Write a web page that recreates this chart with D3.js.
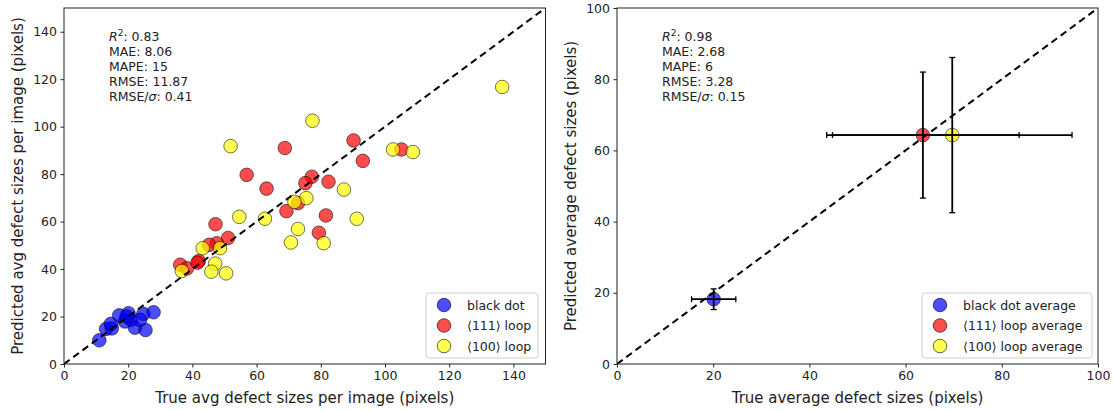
<!DOCTYPE html>
<html><head><meta charset="utf-8">
<script src="https://cdn.jsdelivr.net/npm/d3@7"></script>
<style>body{margin:0;background:#fff;} text{font-family:"DejaVu Sans",sans-serif;fill:#222;}</style>
</head><body><svg id="c" width="1114" height="411"></svg>
<script>
// ---- data ----
const blackDotTrue = [11.0, 13.1, 14.9, 14.6, 17.2, 20.1, 20.9, 22.1, 24.7, 25.4, 27.9, 23.7, 19.0, 19.5];
const blackDotPred = [10.0, 14.8, 15.0, 16.9, 20.5, 21.4, 18.6, 15.3, 21.1, 14.3, 21.8, 18.6, 17.9, 20.0];
const loop111True = [90.2, 68.8, 105.1, 93.1, 56.9, 77.2, 75.2, 82.4, 63.1, 72.9, 69.3, 81.6, 47.2, 79.4, 51.1, 47.6, 45.2, 42.0, 36.2, 38.3, 41.6];
const loop111Pred = [94.2, 91.0, 90.4, 85.6, 79.7, 78.9, 76.2, 76.8, 73.9, 67.8, 64.4, 62.6, 58.9, 55.3, 53.1, 50.9, 50.2, 43.4, 41.8, 40.3, 42.7];
const loop100True = [136.5, 77.4, 51.9, 102.5, 108.7, 87.2, 75.5, 71.8, 54.6, 62.6, 91.2, 72.9, 70.7, 80.9, 43.2, 48.6, 47.1, 45.9, 50.5, 36.7];
const loop100Pred = [116.7, 102.5, 91.8, 90.4, 89.3, 73.5, 69.9, 68.3, 62.0, 61.2, 61.2, 56.9, 51.2, 50.9, 48.8, 48.8, 42.3, 38.9, 38.2, 39.2];
const avgNames = ["black dot average", "\u27E8111\u27E9 loop average", "\u27E8100\u27E9 loop average"];
const avgTrue = [20.1, 63.6, 69.7];
const avgPred = [18.2, 64.3, 64.3];
const avgTrueErr = [4.6, 20.0, 24.9];
const avgPredErr = [2.9, 17.7, 21.8];
const seriesNames = ["black dot", "\u27E8111\u27E9 loop", "\u27E8100\u27E9 loop"];
const seriesColors = ["#0000ff", "#ff0000", "#ffff00"];
const leftTicks = [0, 20, 40, 60, 80, 100, 120, 140];
const rightTicks = [0, 20, 40, 60, 80, 100];
const leftStats = [["R", "0.83"], ["MAE", "8.06"], ["MAPE", "15"], ["RMSE", "11.87"], ["RMSE/\u03C3", "0.41"]];
const rightStats = [["R", "0.98"], ["MAE", "2.68"], ["MAPE", "6"], ["RMSE", "3.28"], ["RMSE/\u03C3", "0.15"]];

const svg = d3.select("#c");
const R = 6.8;

function panel(cfg) {
  const x = d3.scaleLinear().domain([0, cfg.max]).range([cfg.x0, cfg.x1]);
  const y = d3.scaleLinear().domain([0, cfg.max]).range([364, 8]);
  const g = svg.append("g");
  const clipId = "clip" + cfg.id;
  g.append("clipPath").attr("id", clipId).append("rect")
    .attr("x", cfg.x0).attr("y", 8).attr("width", cfg.x1 - cfg.x0).attr("height", 356);

  const xa = g.append("g").attr("transform", "translate(0,364)")
    .call(d3.axisBottom(x).tickValues(cfg.ticks).tickSize(3.5).tickPadding(3.5).tickFormat(d3.format("d")));
  const ya = g.append("g").attr("transform", `translate(${cfg.x0},0)`)
    .call(d3.axisLeft(y).tickValues(cfg.ticks).tickSize(3.5).tickPadding(3.5).tickFormat(d3.format("d")));
  [xa, ya].forEach(a => {
    a.select(".domain").remove();
    a.selectAll("text").style("font-family", "DejaVu Sans").style("font-size", "12.5px").attr("fill", "#222");
    a.selectAll("line").attr("stroke", "#222");
  });

  const body = g.append("g").attr("clip-path", `url(#${clipId})`);
  cfg.draw(body, x, y);

  // diagonal
  body.append("line").attr("x1", x(0)).attr("y1", y(0)).attr("x2", x(cfg.max)).attr("y2", y(cfg.max))
    .attr("stroke", "#000").attr("stroke-width", 2).attr("stroke-dasharray", "7,4.5");

  g.append("rect").attr("x", cfg.x0).attr("y", 8).attr("width", cfg.x1 - cfg.x0).attr("height", 356)
    .attr("fill", "none").attr("stroke", "#222").attr("stroke-width", 1);

  // stats text
  const st = g.append("g");
  cfg.stats.forEach((s, i) => {
    const t = st.append("text").attr("x", cfg.x0 + 45).attr("y", 41 + i * 15).style("font-size", "12.5px");
    if (i === 0) {
      t.append("tspan").text("R").style("font-style", "italic");
      t.append("tspan").text("2").attr("dy", -5).style("font-size", "9px");
      t.append("tspan").text(": " + s[1]).attr("dy", 5);
    } else if (s[0].indexOf("\u03C3") >= 0) {
      t.append("tspan").text("RMSE/");
      t.append("tspan").text("\u03C3").style("font-style", "italic");
      t.append("tspan").text(": " + s[1]);
    } else {
      t.text(s[0] + ": " + s[1]);
    }
  });

  // axis labels
  g.append("text").attr("x", (cfg.x0 + cfg.x1) / 2).attr("y", 403).attr("text-anchor", "middle")
    .style("font-size", "15px").text(cfg.xlabel);
  g.append("text").attr("transform", `translate(${cfg.ylx},186) rotate(-90)`).attr("text-anchor", "middle")
    .style("font-size", "15px").text(cfg.ylabel);

  // legend
  const lg = g.append("g");
  lg.append("rect").attr("x", cfg.lx).attr("y", 293).attr("width", cfg.lw).attr("height", 65).attr("rx", 3)
    .attr("fill", "#fff").attr("fill-opacity", 0.8).attr("stroke", "#d0d0d0");
  cfg.legendNames.forEach((n, i) => {
    const cy = 305 + i * 20.5;
    lg.append("circle").attr("cx", cfg.lx + 18).attr("cy", cy).attr("r", R)
      .attr("fill", seriesColors[i]).attr("fill-opacity", 0.7).attr("stroke", "#000").attr("stroke-opacity", 0.6);
    lg.append("text").attr("x", cfg.lx + 41).attr("y", cy + 4.5).style("font-size", "12.5px").text(n);
  });
}

function dots(body, x, y, xs, ys, color) {
  body.append("g").selectAll("circle").data(xs.map((v, i) => [v, ys[i]])).join("circle")
    .attr("cx", d => x(d[0])).attr("cy", d => y(d[1])).attr("r", R)
    .attr("fill", color).attr("fill-opacity", 0.7).attr("stroke", "#000").attr("stroke-opacity", 0.55).attr("stroke-width", 1);
}

panel({
  id: "L", max: 150, x0: 64, x1: 545.5, ticks: leftTicks, stats: leftStats,
  xlabel: "True avg defect sizes per image (pixels)", ylabel: "Predicted avg defect sizes per image (pixels)", ylx: 23,
  lx: 426, lw: 112, legendNames: seriesNames,
  draw: (b, x, y) => {
    dots(b, x, y, blackDotTrue, blackDotPred, seriesColors[0]);
    dots(b, x, y, loop111True, loop111Pred, seriesColors[1]);
    dots(b, x, y, loop100True, loop100Pred, seriesColors[2]);
  }
});

panel({
  id: "R", max: 100, x0: 617, x1: 1098, ticks: rightTicks, stats: rightStats,
  xlabel: "True average defect sizes (pixels)", ylabel: "Predicted average defect sizes (pixels)", ylx: 576,
  lx: 922, lw: 170, legendNames: avgNames,
  draw: (b, x, y) => {
    avgTrue.forEach((v, i) => {
      dots(b, x, y, [v], [avgPred[i]], seriesColors[i]);
    });
    const eb = b.append("g").attr("stroke", "#000").attr("stroke-width", 1.8);
    avgTrue.forEach((v, i) => {
      const p = avgPred[i], ex = avgTrueErr[i], ey = avgPredErr[i];
      eb.append("line").attr("x1", x(v - ex)).attr("x2", x(v + ex)).attr("y1", y(p)).attr("y2", y(p));
      eb.append("line").attr("x1", x(v)).attr("x2", x(v)).attr("y1", y(p - ey)).attr("y2", y(p + ey));
      [v - ex, v + ex].forEach(c => eb.append("line").attr("x1", x(c)).attr("x2", x(c)).attr("y1", y(p) - 3).attr("y2", y(p) + 3).attr("stroke-width", 1.3));
      [p - ey, p + ey].forEach(c => eb.append("line").attr("y1", y(c)).attr("y2", y(c)).attr("x1", x(v) - 3).attr("x2", x(v) + 3).attr("stroke-width", 1.3));
    });
  }
});
</script></body></html>
